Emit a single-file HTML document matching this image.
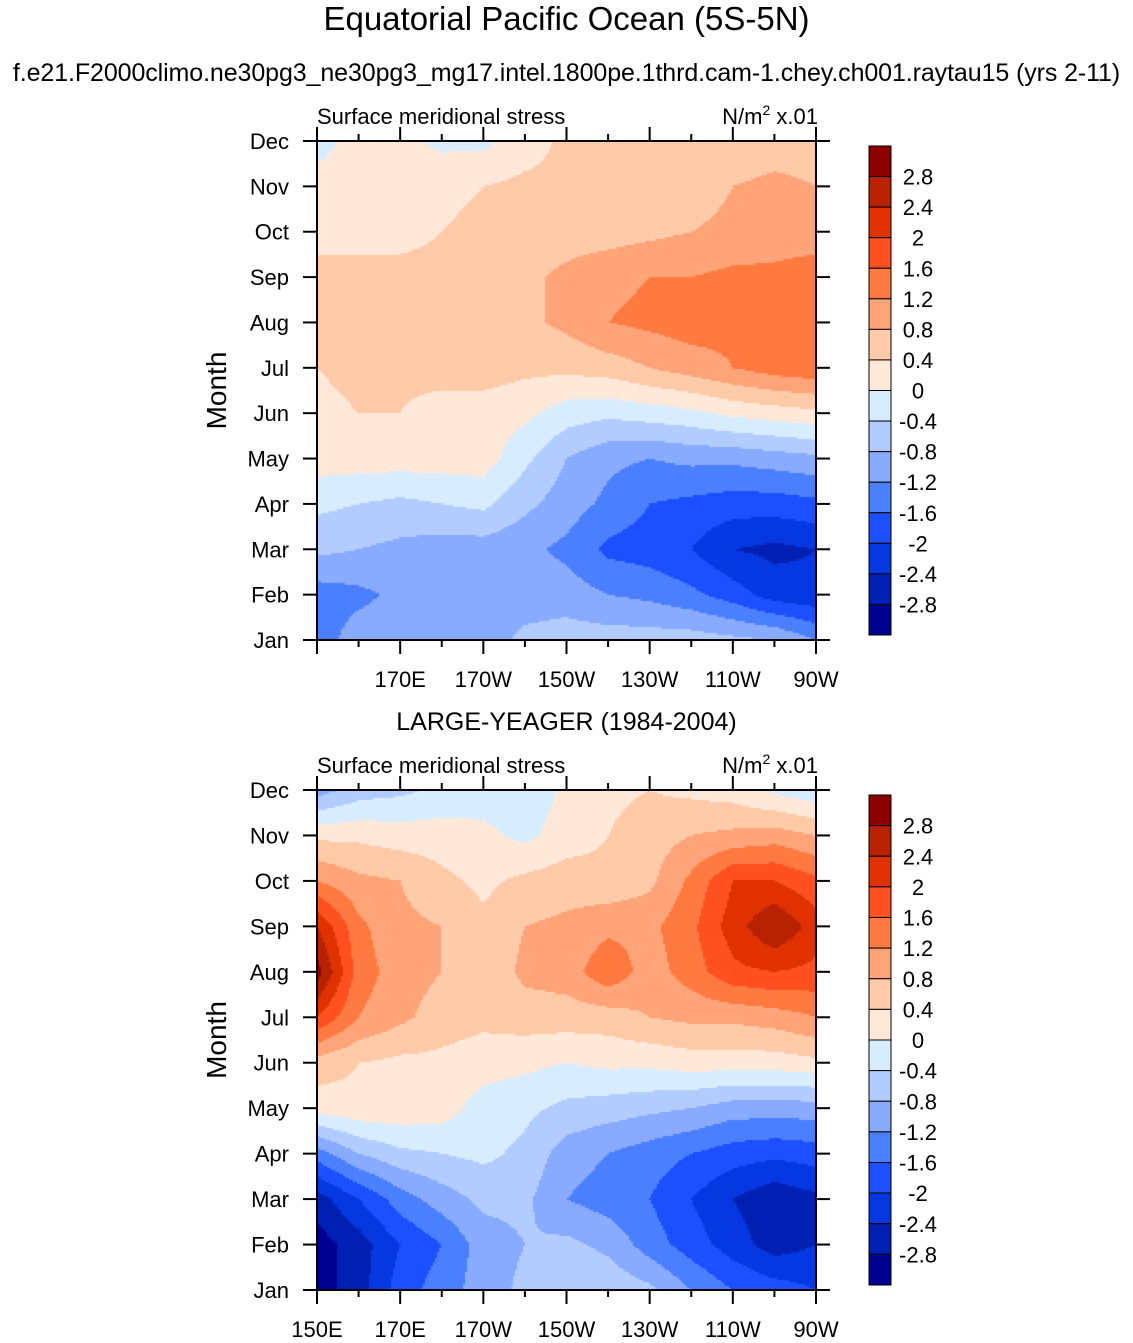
<!DOCTYPE html>
<html><head><meta charset="utf-8"><style>
body{margin:0;background:#fff;width:1133px;height:1343px;overflow:hidden;position:relative;font-family:"Liberation Sans",sans-serif}
.t{position:absolute;white-space:nowrap;color:#000}
canvas{position:absolute}
svg{position:absolute;left:0;top:0}
</style></head><body>
<div class="t" style="left:0;width:1133px;text-align:center;top:0px;font-size:33px">Equatorial Pacific Ocean (5S-5N)</div>
<div class="t" style="left:0;width:1133px;text-align:center;top:59px;font-size:25px;letter-spacing:-0.1px">f.e21.F2000climo.ne30pg3_ne30pg3_mg17.intel.1800pe.1thrd.cam-1.chey.ch001.raytau15 (yrs 2-11)</div>
<div class="t" style="left:0;width:1133px;text-align:center;top:708px;font-size:25px">LARGE-YEAGER (1984-2004)</div>
<canvas id="c1" width="499" height="499" style="left:317px;top:141px"></canvas>
<canvas id="c2" width="499" height="500" style="left:317px;top:790px"></canvas>
<svg id="ov" width="1133" height="1343"></svg>
<script>
const months=["Jan","Feb","Mar","Apr","May","Jun","Jul","Aug","Sep","Oct","Nov","Dec"];
const lons=[150,160,170,180,190,200,210,220,230,240,250,260,270];
const lonLabels=["150E","170E","170W","150W","130W","110W","90W"];
const levels=[-2.8,-2.4,-2,-1.6,-1.2,-0.8,-0.4,0,0.4,0.8,1.2,1.6,2,2.4,2.8];
const levelColors=["#000090","#0020b4","#0538e0","#1c50ff","#4a80ff","#88aaff","#b2ccff","#d8ecff","#ffe8d8","#ffcaa8","#ffa478","#ff7a40","#ff5020","#e03200","#b82200","#8c0000"];
const modelData=[
[-1.4,-1.0,-1.0,-1.0,-1.0,-0.7,-0.6,-0.6,-0.6,-0.6,-0.7,-0.8,-1.2],
[-1.4,-1.3,-1.1,-1.0,-1.0,-1.0,-1.0,-1.2,-1.3,-1.5,-1.8,-2.2,-2.3],
[-0.7,-0.8,-0.9,-1.0,-1.0,-1.1,-1.3,-1.7,-1.8,-2.0,-2.4,-2.5,-2.4],
[-0.3,-0.4,-0.5,-0.4,-0.3,-0.7,-1.0,-1.3,-1.6,-1.7,-1.8,-1.8,-1.7],
[0.2,0.2,0.2,0.2,0.2,-0.3,-0.8,-1.1,-1.2,-1.1,-1.1,-1.0,-0.9],
[0.3,0.4,0.4,0.2,0.2,0.1,-0.2,-0.3,-0.2,-0.1,0.1,0.2,0.3],
[0.4,0.5,0.5,0.6,0.6,0.5,0.5,0.6,0.8,1.0,1.2,1.4,1.5],
[0.5,0.5,0.6,0.6,0.6,0.7,0.9,1.2,1.3,1.4,1.3,1.4,1.5],
[0.5,0.5,0.5,0.5,0.5,0.7,0.9,1.1,1.2,1.2,1.3,1.3,1.4],
[0.3,0.3,0.3,0.4,0.5,0.6,0.6,0.6,0.7,0.8,0.9,1.0,1.0],
[0.2,0.3,0.3,0.3,0.4,0.5,0.5,0.5,0.6,0.6,0.8,0.9,0.8],
[-0.2,0.2,0.1,-0.1,-0.1,0.2,0.5,0.5,0.5,0.5,0.5,0.6,0.6]];
const obsData=[
[-3.0,-2.6,-1.8,-1.4,-1.0,-0.7,-0.5,-0.5,-0.7,-1.2,-1.6,-1.8,-2.0],
[-3.0,-2.6,-2.0,-1.6,-1.0,-0.8,-0.7,-0.9,-1.4,-1.8,-2.2,-2.6,-2.4],
[-2.6,-2.0,-1.4,-1.0,-0.7,-0.7,-1.2,-1.4,-1.6,-2.0,-2.4,-2.7,-2.5],
[-1.4,-0.8,-0.5,-0.4,-0.3,-0.5,-1.0,-1.2,-1.4,-1.6,-1.8,-1.9,-1.8],
[0.2,0.3,0.3,0.2,-0.2,-0.3,-0.5,-0.6,-0.7,-0.8,-1.0,-1.0,-1.0],
[0.6,0.4,0.3,0.3,0.2,0.1,0.0,0.1,0.1,0.2,0.2,0.2,0.3],
[2.0,1.2,0.9,0.6,0.5,0.6,0.6,0.6,0.8,0.9,0.9,1.0,1.2],
[3.0,1.4,1.0,0.8,0.5,0.9,1.0,1.5,1.0,1.4,1.9,2.0,1.9],
[2.4,1.3,0.9,0.8,0.5,0.8,0.9,1.1,1.1,1.5,2.2,2.8,2.2],
[1.2,0.9,0.8,0.5,0.3,0.5,0.6,0.5,0.7,1.3,2.0,2.0,1.7],
[0.3,0.3,0.2,0.2,0.1,-0.1,0.2,0.4,0.6,0.8,0.9,1.0,0.8],
[-1.0,-0.6,-0.5,-0.3,-0.2,-0.3,0.1,0.3,0.4,0.3,0.2,-0.1,-0.3]];

function colorFor(v){let i=0;while(i<levels.length&&v>=levels[i])i++;return levelColors[i];}
function drawFill(id,data){
  const c=document.getElementById(id),ctx=c.getContext('2d'),W=c.width,H=c.height,s=2;
  const nx=lons.length-1,ny=months.length-1;
  for(let py=0;py<H;py+=s)for(let px=0;px<W;px+=s){
    const fx=(px+s/2)/W*nx, fy=(1-(py+s/2)/H)*ny;
    const i=Math.min(nx-1,Math.floor(fx)), j=Math.min(ny-1,Math.floor(fy));
    const tx=fx-i, ty=fy-j;
    const v=data[j][i]*(1-tx)*(1-ty)+data[j][i+1]*tx*(1-ty)+data[j+1][i]*(1-tx)*ty+data[j+1][i+1]*tx*ty;
    ctx.fillStyle=colorFor(v);ctx.fillRect(px,py,s,s);
  }
}
drawFill('c1',modelData);drawFill('c2',obsData);

const ov=document.getElementById('ov'),NS='http://www.w3.org/2000/svg';
function el(tag,a,txt){const e=document.createElementNS(NS,tag);for(const k in a)e.setAttribute(k,a[k]);if(txt!==undefined)e.textContent=txt;ov.appendChild(e);return e;}
function panel(top,bottom,showFirst,pfx){
  const L=317,R=816;
  const xs=lon=>L+(lon-150)/120*(R-L);
  const ys=m=>bottom-m/11*(bottom-top);
  const r=el('rect',{x:L,y:top,width:R-L,height:bottom-top,fill:'none',stroke:'#000','stroke-width':2});
  
  months.forEach((m,k)=>{const y=ys(k);
    el('line',{x1:L-14,x2:L,y1:y,y2:y,stroke:'#000','stroke-width':2});
    el('line',{x1:R,x2:R+14,y1:y,y2:y,stroke:'#000','stroke-width':2});
    const t=el('text',{x:L-28,y:y+8,'text-anchor':'end','font-size':22},m);
    });
  for(let lon=150;lon<=270;lon+=10){const x=xs(lon),maj=(lon-150)%20==0,len=maj?14:7;
    el('line',{x1:x,x2:x,y1:bottom,y2:bottom+len,stroke:'#000','stroke-width':2});
    el('line',{x1:x,x2:x,y1:top,y2:top-len,stroke:'#000','stroke-width':2});}
  lonLabels.forEach((lb,k)=>{if(k==0&&!showFirst)return;
    const t=el('text',{x:xs(150+20*k),y:bottom+47,'text-anchor':'middle','font-size':22},lb);
    });
  const yt=el('text',{x:0,y:0,'font-size':28,'text-anchor':'middle',transform:`translate(226,${(top+bottom)/2}) rotate(-90)`},'Month');
  
  const lt=el('text',{x:L,y:top-17,'font-size':22},'Surface meridional stress');
  
  const ut=el('text',{x:R+2,y:top-17,'font-size':22,'text-anchor':'end'});
  ut.innerHTML='N/m<tspan dy="-9" font-size="14">2</tspan><tspan dy="9"> x.01</tspan>';
  
  const cbT=top+5,cbB=bottom-5,n=levelColors.length,h=(cbB-cbT)/n;
  levelColors.slice().reverse().forEach((c,k)=>{const b=el('rect',{x:869,y:cbT+k*h,width:22,height:h,fill:c,stroke:'#000','stroke-width':1});
    });
  levels.slice().reverse().forEach((v,k)=>{const t=el('text',{x:918,y:cbT+(k+1)*h+8,'text-anchor':'middle','font-size':22},String(v));
    });
}
panel(141,640,false,'top');
panel(790,1290,true,'bottom');
</script>
</body></html>
